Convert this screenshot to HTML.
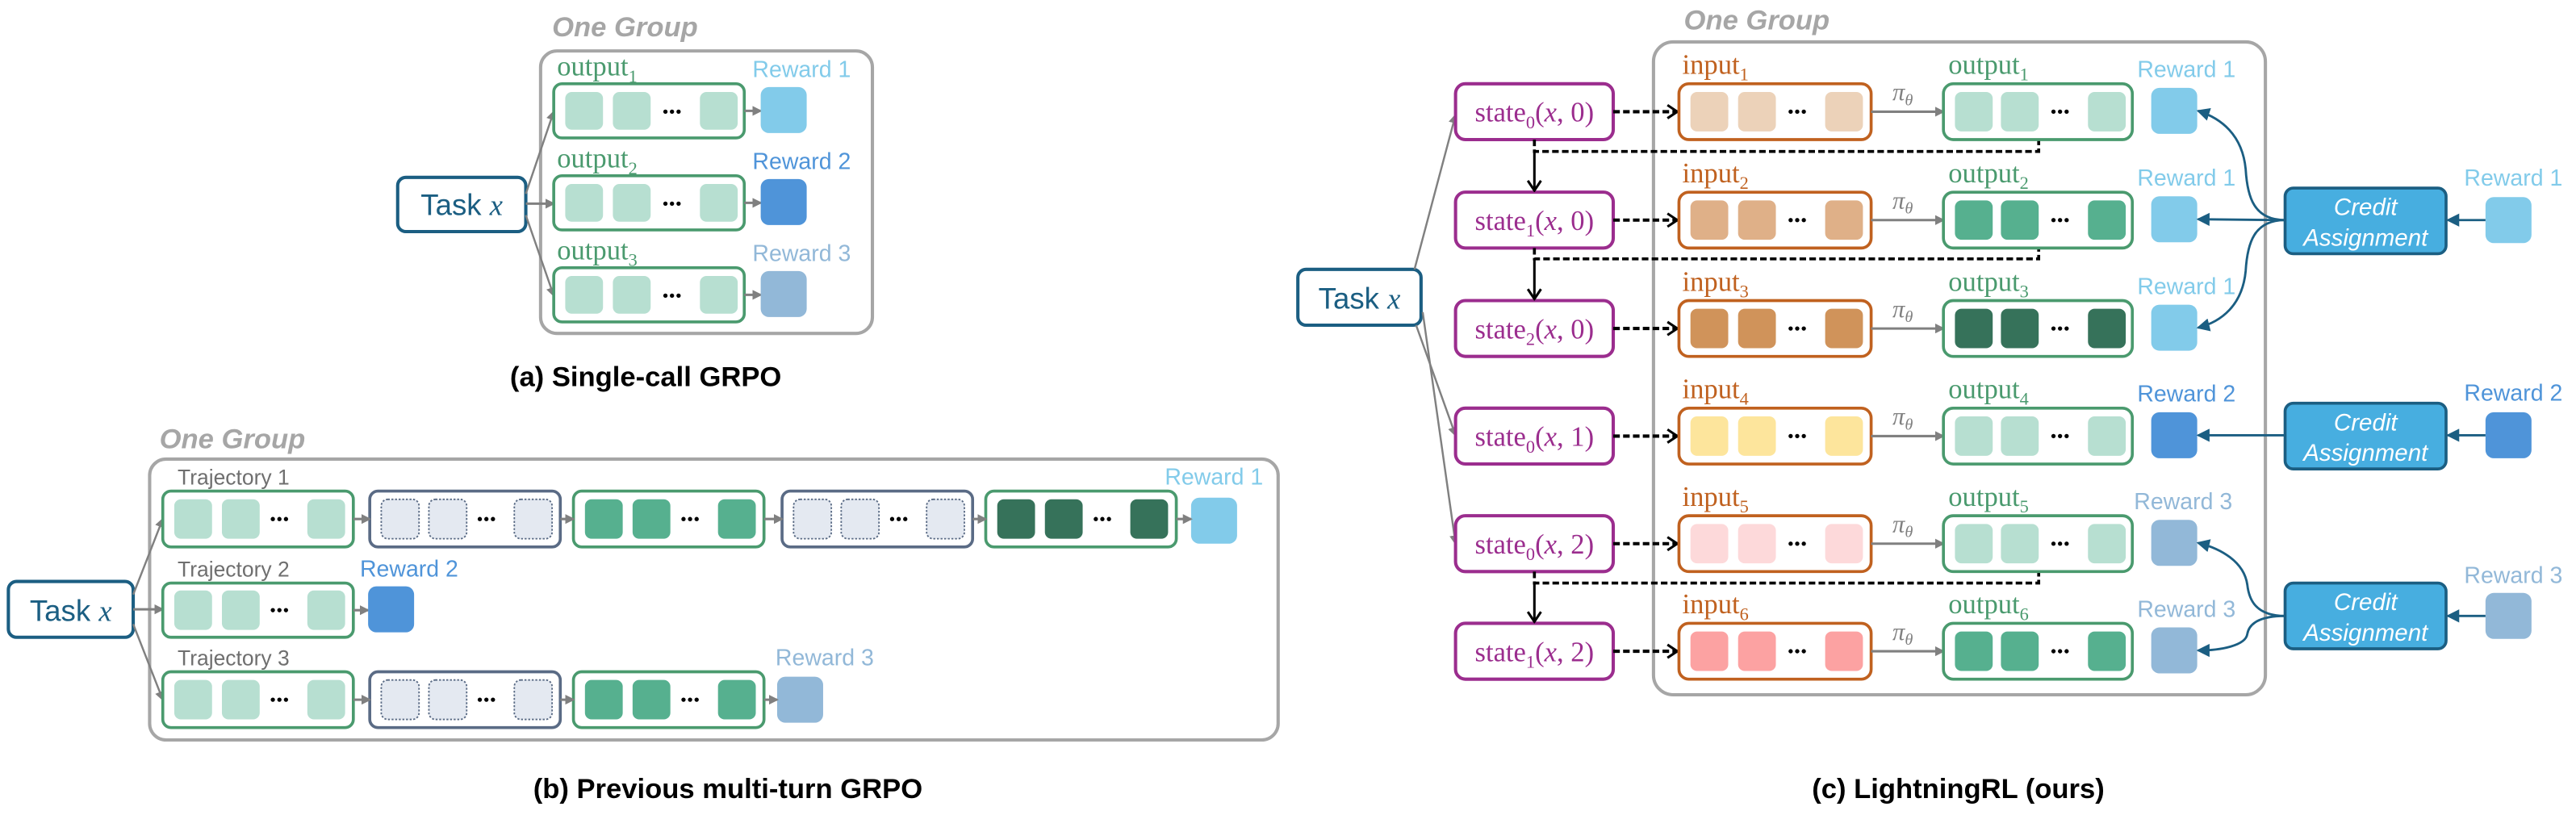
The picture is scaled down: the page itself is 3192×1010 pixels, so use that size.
<!DOCTYPE html>
<html><head><meta charset="utf-8"><style>
html,body{margin:0;padding:0;background:#fff;}
svg{display:block;}
.sans{font-family:"Liberation Sans",sans-serif;}
.serif{font-family:"Liberation Serif",serif;}
</style></head><body>
<svg width="3192" height="1010" viewBox="0 0 1568 496.2" xmlns="http://www.w3.org/2000/svg">
<defs>
<marker id="ag" markerWidth="6" markerHeight="6" refX="5" refY="3" orient="auto" markerUnits="userSpaceOnUse"><path d="M0,0 L6,3 L0,6 z" fill="#808080"/></marker>
<marker id="ab" markerWidth="8" markerHeight="8" refX="7" refY="4" orient="auto" markerUnits="userSpaceOnUse"><path d="M0,0 L8,4 L0,8 z" fill="#1b5e82"/></marker>
<marker id="ak" markerWidth="8" markerHeight="10" refX="7" refY="5" orient="auto" markerUnits="userSpaceOnUse"><path d="M1,1 L7,5 L1,9" fill="none" stroke="#000" stroke-width="1.5"/></marker>
<g id="dots"><circle cx="-4" cy="0" r="1.3" fill="#000"/><circle cx="0" cy="0" r="1.3" fill="#000"/><circle cx="4" cy="0" r="1.3" fill="#000"/></g>
</defs>

<!-- ========== (a) ========== -->
<text x="336" y="22" class="sans" font-size="17" font-weight="bold" font-style="italic" fill="#a6a6a6">One Group</text>
<rect x="329" y="31" width="202" height="172" rx="10" fill="none" stroke="#a6a6a6" stroke-width="2"/>
<rect x="242" y="108" width="78" height="33" rx="5" fill="#fff" stroke="#1b5e82" stroke-width="2"/>
<text x="281" y="131" text-anchor="middle" class="sans" font-size="18" fill="#1b5e82">Task <tspan class="serif" font-style="italic">x</tspan></text>
<path d="M320,118 L337,68" stroke="#808080" stroke-width="1.2" marker-end="url(#ag)" fill="none"/>
<path d="M320,124 L337,124" stroke="#808080" stroke-width="1.5" marker-end="url(#ag)" fill="none"/>
<path d="M320,131 L337,180" stroke="#808080" stroke-width="1.2" marker-end="url(#ag)" fill="none"/>
<g class="serif" font-size="17" fill="#4a9a6e">
<text x="339" y="46">output<tspan font-size="11" dy="4">1</tspan></text>
<text x="339" y="102">output<tspan font-size="11" dy="4">2</tspan></text>
<text x="339" y="158">output<tspan font-size="11" dy="4">3</tspan></text>
</g>
<g class="sans" font-size="14">
<text x="458" y="47" fill="#82cbea">Reward 1</text>
<text x="458" y="103" fill="#4f94d9">Reward 2</text>
<text x="458" y="159" fill="#92b8d8">Reward 3</text>
</g>
<g fill="#b7dfd1">
<rect x="337" y="51" width="116" height="33" rx="5" fill="#fff" stroke="#4a9a6e" stroke-width="1.8"/>
<rect x="344" y="56" width="23" height="23" rx="4"/><rect x="373" y="56" width="23" height="23" rx="4"/><rect x="426" y="56" width="23" height="23" rx="4"/>
<rect x="337" y="107" width="116" height="33" rx="5" fill="#fff" stroke="#4a9a6e" stroke-width="1.8"/>
<rect x="344" y="112" width="23" height="23" rx="4"/><rect x="373" y="112" width="23" height="23" rx="4"/><rect x="426" y="112" width="23" height="23" rx="4"/>
<rect x="337" y="163" width="116" height="33" rx="5" fill="#fff" stroke="#4a9a6e" stroke-width="1.8"/>
<rect x="344" y="168" width="23" height="23" rx="4"/><rect x="373" y="168" width="23" height="23" rx="4"/><rect x="426" y="168" width="23" height="23" rx="4"/>
</g>
<use href="#dots" x="409" y="68"/><use href="#dots" x="409" y="124"/><use href="#dots" x="409" y="180"/>
<g stroke="#808080" stroke-width="1.5" marker-end="url(#ag)">
<line x1="453" y1="67.5" x2="463" y2="67.5"/><line x1="453" y1="123.5" x2="463" y2="123.5"/><line x1="453" y1="179.5" x2="463" y2="179.5"/>
</g>
<rect x="463" y="53" width="28" height="28" rx="5" fill="#82cbea"/>
<rect x="463" y="109" width="28" height="28" rx="5" fill="#4f94d9"/>
<rect x="463" y="165" width="28" height="28" rx="5" fill="#92b8d8"/>
<text x="393" y="235" text-anchor="middle" class="sans" font-size="17" font-weight="bold" fill="#000">(a) Single-call GRPO</text>

<!-- ========== (b) ========== -->
<text x="97" y="273" class="sans" font-size="17" font-weight="bold" font-style="italic" fill="#a6a6a6">One Group</text>
<rect x="91" y="279.5" width="687" height="171" rx="10" fill="none" stroke="#a6a6a6" stroke-width="2"/>
<rect x="5" y="354" width="76" height="34" rx="5" fill="#fff" stroke="#1b5e82" stroke-width="2"/>
<text x="43" y="378" text-anchor="middle" class="sans" font-size="18" fill="#1b5e82">Task <tspan class="serif" font-style="italic">x</tspan></text>
<path d="M81,362 L99,316" stroke="#808080" stroke-width="1.2" marker-end="url(#ag)" fill="none"/>
<path d="M81,371 L99,371" stroke="#808080" stroke-width="1.5" marker-end="url(#ag)" fill="none"/>
<path d="M81,380 L99,426" stroke="#808080" stroke-width="1.2" marker-end="url(#ag)" fill="none"/>
<g class="sans" font-size="13" fill="#6f6f6f">
<text x="108" y="295">Trajectory 1</text><text x="108" y="351">Trajectory 2</text><text x="108" y="405">Trajectory 3</text>
</g>
<g class="sans" font-size="14">
<text x="709" y="295" fill="#82cbea">Reward 1</text>
<text x="219" y="351" fill="#4f94d9">Reward 2</text>
<text x="472" y="405" fill="#92b8d8">Reward 3</text>
</g>
<g>
<rect x="99" y="299" width="116" height="34" rx="5" fill="#fff" stroke="#4a9a6e" stroke-width="1.8"/>
<g fill="#b7dfd1"><rect x="106" y="304" width="23" height="24" rx="4"/><rect x="135" y="304" width="23" height="24" rx="4"/><rect x="187" y="304" width="23" height="24" rx="4"/></g>
<use href="#dots" x="170" y="316"/>
<rect x="225" y="299" width="116" height="34" rx="5" fill="#fff" stroke="#5a6b85" stroke-width="1.8"/>
<g fill="#e4e9f1" stroke="#5a6b85" stroke-width="0.9" stroke-dasharray="1.2,1"><rect x="232" y="304" width="23" height="24" rx="4"/><rect x="261" y="304" width="23" height="24" rx="4"/><rect x="313" y="304" width="23" height="24" rx="4"/></g>
<use href="#dots" x="296" y="316"/>
<rect x="349" y="299" width="116" height="34" rx="5" fill="#fff" stroke="#4a9a6e" stroke-width="1.8"/>
<g fill="#56b08f"><rect x="356" y="304" width="23" height="24" rx="4"/><rect x="385" y="304" width="23" height="24" rx="4"/><rect x="437" y="304" width="23" height="24" rx="4"/></g>
<use href="#dots" x="420" y="316"/>
<rect x="476" y="299" width="116" height="34" rx="5" fill="#fff" stroke="#5a6b85" stroke-width="1.8"/>
<g fill="#e4e9f1" stroke="#5a6b85" stroke-width="0.9" stroke-dasharray="1.2,1"><rect x="483" y="304" width="23" height="24" rx="4"/><rect x="512" y="304" width="23" height="24" rx="4"/><rect x="564" y="304" width="23" height="24" rx="4"/></g>
<use href="#dots" x="547" y="316"/>
<rect x="600" y="299" width="116" height="34" rx="5" fill="#fff" stroke="#4a9a6e" stroke-width="1.8"/>
<g fill="#36725a"><rect x="607" y="304" width="23" height="24" rx="4"/><rect x="636" y="304" width="23" height="24" rx="4"/><rect x="688" y="304" width="23" height="24" rx="4"/></g>
<use href="#dots" x="671" y="316"/>
<rect x="725" y="303" width="28" height="28" rx="5" fill="#82cbea"/>
<g stroke="#808080" stroke-width="1.5" marker-end="url(#ag)">
<line x1="215" y1="316" x2="225" y2="316"/><line x1="341" y1="316" x2="349" y2="316"/><line x1="465" y1="316" x2="476" y2="316"/><line x1="592" y1="316" x2="600" y2="316"/><line x1="716" y1="316" x2="725" y2="316"/>
</g>
</g>
<rect x="99" y="355" width="116" height="33" rx="5" fill="#fff" stroke="#4a9a6e" stroke-width="1.8"/>
<g fill="#b7dfd1"><rect x="106" y="359.5" width="23" height="24" rx="4"/><rect x="135" y="359.5" width="23" height="24" rx="4"/><rect x="187" y="359.5" width="23" height="24" rx="4"/></g>
<use href="#dots" x="170" y="371.5"/>
<line x1="215" y1="371.5" x2="224" y2="371.5" stroke="#808080" stroke-width="1.5" marker-end="url(#ag)"/>
<rect x="224" y="357" width="28" height="28" rx="5" fill="#4f94d9"/>
<rect x="99" y="409" width="116" height="34" rx="5" fill="#fff" stroke="#4a9a6e" stroke-width="1.8"/>
<g fill="#b7dfd1"><rect x="106" y="414" width="23" height="24" rx="4"/><rect x="135" y="414" width="23" height="24" rx="4"/><rect x="187" y="414" width="23" height="24" rx="4"/></g>
<use href="#dots" x="170" y="426"/>
<rect x="225" y="409" width="116" height="34" rx="5" fill="#fff" stroke="#5a6b85" stroke-width="1.8"/>
<g fill="#e4e9f1" stroke="#5a6b85" stroke-width="0.9" stroke-dasharray="1.2,1"><rect x="232" y="414" width="23" height="24" rx="4"/><rect x="261" y="414" width="23" height="24" rx="4"/><rect x="313" y="414" width="23" height="24" rx="4"/></g>
<use href="#dots" x="296" y="426"/>
<rect x="349" y="409" width="116" height="34" rx="5" fill="#fff" stroke="#4a9a6e" stroke-width="1.8"/>
<g fill="#56b08f"><rect x="356" y="414" width="23" height="24" rx="4"/><rect x="385" y="414" width="23" height="24" rx="4"/><rect x="437" y="414" width="23" height="24" rx="4"/></g>
<use href="#dots" x="420" y="426"/>
<rect x="473" y="412" width="28" height="28" rx="5" fill="#92b8d8"/>
<g stroke="#808080" stroke-width="1.5" marker-end="url(#ag)">
<line x1="215" y1="426" x2="225" y2="426"/><line x1="341" y1="426" x2="349" y2="426"/><line x1="465" y1="426" x2="473" y2="426"/>
</g>
<text x="443" y="486" text-anchor="middle" class="sans" font-size="17" font-weight="bold" fill="#000">(b) Previous multi-turn GRPO</text>

<!-- ========== (c) ========== -->
<text x="1025" y="18" class="sans" font-size="17" font-weight="bold" font-style="italic" fill="#a6a6a6">One Group</text>
<rect x="1006.5" y="25.5" width="372.5" height="397.5" rx="12" fill="none" stroke="#a6a6a6" stroke-width="2"/>
<rect x="790" y="164" width="75" height="34" rx="5" fill="#fff" stroke="#1b5e82" stroke-width="2"/>
<text x="827.5" y="188" text-anchor="middle" class="sans" font-size="18" fill="#1b5e82">Task <tspan class="serif" font-style="italic">x</tspan></text>
<g stroke="#808080" stroke-width="1.2" fill="none" marker-end="url(#ag)">
<path d="M861,164 L886,70"/><path d="M862,198 L886,265"/><path d="M866,190 L886,331"/>
</g>

<g stroke="#9b2d8e" stroke-width="2" fill="#fff">
<rect x="886" y="51" width="96" height="34" rx="6"/>
<rect x="886" y="117" width="96" height="34" rx="6"/>
<rect x="886" y="183" width="96" height="34" rx="6"/>
<rect x="886" y="248.5" width="96" height="34" rx="6"/>
<rect x="886" y="314" width="96" height="34" rx="6"/>
<rect x="886" y="379.5" width="96" height="34" rx="6"/>
</g>
<g class="serif" font-size="17" fill="#9b2d8e" text-anchor="middle">
<text x="934" y="74">state<tspan font-size="11" dy="4">0</tspan><tspan dy="-4">(<tspan font-style="italic">x</tspan>, 0)</tspan></text>
<text x="934" y="140">state<tspan font-size="11" dy="4">1</tspan><tspan dy="-4">(<tspan font-style="italic">x</tspan>, 0)</tspan></text>
<text x="934" y="206">state<tspan font-size="11" dy="4">2</tspan><tspan dy="-4">(<tspan font-style="italic">x</tspan>, 0)</tspan></text>
<text x="934" y="271.5">state<tspan font-size="11" dy="4">0</tspan><tspan dy="-4">(<tspan font-style="italic">x</tspan>, 1)</tspan></text>
<text x="934" y="337">state<tspan font-size="11" dy="4">0</tspan><tspan dy="-4">(<tspan font-style="italic">x</tspan>, 2)</tspan></text>
<text x="934" y="402.5">state<tspan font-size="11" dy="4">1</tspan><tspan dy="-4">(<tspan font-style="italic">x</tspan>, 2)</tspan></text>
</g>
<g stroke="#000" stroke-width="2" stroke-dasharray="4,2" marker-end="url(#ak)">
<line x1="982" y1="68" x2="1021" y2="68"/><line x1="982" y1="134" x2="1021" y2="134"/><line x1="982" y1="200" x2="1021" y2="200"/>
<line x1="982" y1="265.5" x2="1021" y2="265.5"/><line x1="982" y1="331" x2="1021" y2="331"/><line x1="982" y1="396.5" x2="1021" y2="396.5"/>
</g>
<g stroke="#000" stroke-width="1.8" stroke-dasharray="4,2" fill="none">
<path d="M934,85 L934,92.2 L1241,92.2 L1241,85"/>
<path d="M934,151 L934,157.6 L1241,157.6 L1241,151"/>
<path d="M934,348 L934,355 L1241,355 L1241,348"/>
</g>
<g stroke="#000" stroke-width="1.5" marker-end="url(#ak)">
<line x1="934" y1="92.2" x2="934" y2="116"/><line x1="934" y1="157.6" x2="934" y2="182"/><line x1="934" y1="355" x2="934" y2="378.5"/>
</g>

<g stroke="#c0611f" stroke-width="1.8" fill="#fff">
<rect x="1022" y="51" width="117" height="34" rx="6"/><rect x="1022" y="117" width="117" height="34" rx="6"/><rect x="1022" y="183" width="117" height="34" rx="6"/>
<rect x="1022" y="248.5" width="117" height="34" rx="6"/><rect x="1022" y="314" width="117" height="34" rx="6"/><rect x="1022" y="379.5" width="117" height="34" rx="6"/>
</g>
<g fill="#ecd2b9"><rect x="1029" y="56" width="23" height="24" rx="4"/><rect x="1058" y="56" width="23" height="24" rx="4"/><rect x="1111" y="56" width="23" height="24" rx="4"/></g>
<g fill="#dfb088"><rect x="1029" y="122" width="23" height="24" rx="4"/><rect x="1058" y="122" width="23" height="24" rx="4"/><rect x="1111" y="122" width="23" height="24" rx="4"/></g>
<g fill="#d0935a"><rect x="1029" y="188" width="23" height="24" rx="4"/><rect x="1058" y="188" width="23" height="24" rx="4"/><rect x="1111" y="188" width="23" height="24" rx="4"/></g>
<g fill="#fde59c"><rect x="1029" y="253.5" width="23" height="24" rx="4"/><rect x="1058" y="253.5" width="23" height="24" rx="4"/><rect x="1111" y="253.5" width="23" height="24" rx="4"/></g>
<g fill="#fdd9da"><rect x="1029" y="319" width="23" height="24" rx="4"/><rect x="1058" y="319" width="23" height="24" rx="4"/><rect x="1111" y="319" width="23" height="24" rx="4"/></g>
<g fill="#fca2a2"><rect x="1029" y="384.5" width="23" height="24" rx="4"/><rect x="1058" y="384.5" width="23" height="24" rx="4"/><rect x="1111" y="384.5" width="23" height="24" rx="4"/></g>
<use href="#dots" x="1094" y="68"/><use href="#dots" x="1094" y="134"/><use href="#dots" x="1094" y="200"/><use href="#dots" x="1094" y="265.5"/><use href="#dots" x="1094" y="331"/><use href="#dots" x="1094" y="396.5"/>
<g class="serif" font-size="17" fill="#c0611f">
<text x="1024" y="45">input<tspan font-size="11" dy="4">1</tspan></text>
<text x="1024" y="111">input<tspan font-size="11" dy="4">2</tspan></text>
<text x="1024" y="177">input<tspan font-size="11" dy="4">3</tspan></text>
<text x="1024" y="242.5">input<tspan font-size="11" dy="4">4</tspan></text>
<text x="1024" y="308">input<tspan font-size="11" dy="4">5</tspan></text>
<text x="1024" y="373.5">input<tspan font-size="11" dy="4">6</tspan></text>
</g>
<g stroke="#808080" stroke-width="1.5" marker-end="url(#ag)">
<line x1="1139" y1="68" x2="1183" y2="68"/><line x1="1139" y1="134" x2="1183" y2="134"/><line x1="1139" y1="200" x2="1183" y2="200"/>
<line x1="1139" y1="265.5" x2="1183" y2="265.5"/><line x1="1139" y1="331" x2="1183" y2="331"/><line x1="1139" y1="396.5" x2="1183" y2="396.5"/>
</g>
<g class="serif" font-size="15" font-style="italic" fill="#808080">
<text x="1152" y="61">π<tspan font-size="10" dy="3">θ</tspan></text>
<text x="1152" y="127">π<tspan font-size="10" dy="3">θ</tspan></text>
<text x="1152" y="193">π<tspan font-size="10" dy="3">θ</tspan></text>
<text x="1152" y="258.5">π<tspan font-size="10" dy="3">θ</tspan></text>
<text x="1152" y="324">π<tspan font-size="10" dy="3">θ</tspan></text>
<text x="1152" y="389.5">π<tspan font-size="10" dy="3">θ</tspan></text>
</g>
<g stroke="#4a9a6e" stroke-width="1.8" fill="#fff">
<rect x="1183" y="51" width="115" height="34" rx="6"/><rect x="1183" y="117" width="115" height="34" rx="6"/><rect x="1183" y="183" width="115" height="34" rx="6"/>
<rect x="1183" y="248.5" width="115" height="34" rx="6"/><rect x="1183" y="314" width="115" height="34" rx="6"/><rect x="1183" y="379.5" width="115" height="34" rx="6"/>
</g>
<g fill="#b7dfd1"><rect x="1190" y="56" width="23" height="24" rx="4"/><rect x="1218" y="56" width="23" height="24" rx="4"/><rect x="1271" y="56" width="23" height="24" rx="4"/></g>
<g fill="#56b08f"><rect x="1190" y="122" width="23" height="24" rx="4"/><rect x="1218" y="122" width="23" height="24" rx="4"/><rect x="1271" y="122" width="23" height="24" rx="4"/></g>
<g fill="#36725a"><rect x="1190" y="188" width="23" height="24" rx="4"/><rect x="1218" y="188" width="23" height="24" rx="4"/><rect x="1271" y="188" width="23" height="24" rx="4"/></g>
<g fill="#b7dfd1"><rect x="1190" y="253.5" width="23" height="24" rx="4"/><rect x="1218" y="253.5" width="23" height="24" rx="4"/><rect x="1271" y="253.5" width="23" height="24" rx="4"/></g>
<g fill="#b7dfd1"><rect x="1190" y="319" width="23" height="24" rx="4"/><rect x="1218" y="319" width="23" height="24" rx="4"/><rect x="1271" y="319" width="23" height="24" rx="4"/></g>
<g fill="#56b08f"><rect x="1190" y="384.5" width="23" height="24" rx="4"/><rect x="1218" y="384.5" width="23" height="24" rx="4"/><rect x="1271" y="384.5" width="23" height="24" rx="4"/></g>
<use href="#dots" x="1254" y="68"/><use href="#dots" x="1254" y="134"/><use href="#dots" x="1254" y="200"/><use href="#dots" x="1254" y="265.5"/><use href="#dots" x="1254" y="331"/><use href="#dots" x="1254" y="396.5"/>
<g class="serif" font-size="17" fill="#4a9a6e">
<text x="1186" y="45">output<tspan font-size="11" dy="4">1</tspan></text>
<text x="1186" y="111">output<tspan font-size="11" dy="4">2</tspan></text>
<text x="1186" y="177">output<tspan font-size="11" dy="4">3</tspan></text>
<text x="1186" y="242.5">output<tspan font-size="11" dy="4">4</tspan></text>
<text x="1186" y="308">output<tspan font-size="11" dy="4">5</tspan></text>
<text x="1186" y="373.5">output<tspan font-size="11" dy="4">6</tspan></text>
</g>
<rect x="1309.5" y="53.5" width="28" height="28" rx="5" fill="#82cbea"/>
<rect x="1309.5" y="119.5" width="28" height="28" rx="5" fill="#82cbea"/>
<rect x="1309.5" y="185.5" width="28" height="28" rx="5" fill="#82cbea"/>
<rect x="1309.5" y="251" width="28" height="28" rx="5" fill="#4f94d9"/>
<rect x="1309.5" y="316.5" width="28" height="28" rx="5" fill="#92b8d8"/>
<rect x="1309.5" y="382" width="28" height="28" rx="5" fill="#92b8d8"/>
<g class="sans" font-size="14">
<text x="1301" y="47" fill="#82cbea">Reward 1</text>
<text x="1301" y="113" fill="#82cbea">Reward 1</text>
<text x="1301" y="179" fill="#82cbea">Reward 1</text>
<text x="1301" y="244.5" fill="#4f94d9">Reward 2</text>
<text x="1299" y="310" fill="#92b8d8">Reward 3</text>
<text x="1301" y="375.5" fill="#92b8d8">Reward 3</text>
</g>
<g fill="#47aee0" stroke="#1b5e82" stroke-width="1.8">
<rect x="1391" y="114.5" width="98" height="40" rx="5"/>
<rect x="1391" y="245.5" width="98" height="40" rx="5"/>
<rect x="1391" y="355" width="98" height="40" rx="5"/>
</g>
<g class="sans" font-size="14.5" font-style="italic" fill="#fff" text-anchor="middle">
<text x="1440" y="131">Credit</text><text x="1440" y="149.5">Assignment</text>
<text x="1440" y="262">Credit</text><text x="1440" y="280.5">Assignment</text>
<text x="1440" y="371.5">Credit</text><text x="1440" y="390">Assignment</text>
</g>
<rect x="1513" y="120" width="28" height="28" rx="5" fill="#82cbea"/>
<rect x="1513" y="251" width="28" height="28" rx="5" fill="#4f94d9"/>
<rect x="1513" y="361" width="28" height="28" rx="5" fill="#92b8d8"/>
<g class="sans" font-size="14">
<text x="1500" y="113" fill="#82cbea">Reward 1</text>
<text x="1500" y="244" fill="#4f94d9">Reward 2</text>
<text x="1500" y="355" fill="#92b8d8">Reward 3</text>
</g>
<g stroke="#1b5e82" stroke-width="1.4" fill="none" marker-end="url(#ab)">
<line x1="1513" y1="134" x2="1490" y2="134"/>
<line x1="1513" y1="265" x2="1490" y2="265"/>
<line x1="1513" y1="375" x2="1490" y2="375"/>
<path d="M1391,134 C1372,134 1368,120 1367,103 C1365,82 1352,72 1338,67.5"/>
<line x1="1391" y1="134" x2="1338" y2="133.5"/>
<path d="M1391,134 C1372,134 1368,148 1367,165 C1365,186 1352,196 1338,199.5"/>
<line x1="1391" y1="265" x2="1338" y2="265"/>
<path d="M1391,375 C1373,375 1369,365 1368,356 C1366,342 1352,334 1338,330.5"/>
<path d="M1391,375 C1375,375 1369,380 1368,386 C1367,393 1352,396 1338,396"/>
</g>
<text x="1192" y="486" text-anchor="middle" class="sans" font-size="17" font-weight="bold" fill="#000">(c) LightningRL (ours)</text>
</svg>
</body></html>
